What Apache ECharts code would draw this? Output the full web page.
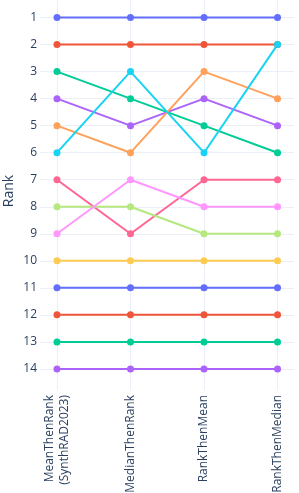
<!DOCTYPE html>
<html>
<head>
<meta charset="utf-8">
<script src="https://cdn.jsdelivr.net/npm/echarts@6/dist/echarts.min.js"></script>
<style>html,body{margin:0;padding:0;background:#fff}#c{width:299px;height:493px}</style>
</head>
<body>
<div id="c"></div>
<script>
const categories = ["MeanThenRank\n(SynthRAD2023)", "MedianThenRank", "RankThenMean", "RankThenMedian"];
const rankTicks = [1,2,3,4,5,6,7,8,9,10,11,12,13,14];
const rank01 = [1, 1, 1, 1];
const rank02 = [2, 2, 2, 2];
const rank03 = [3, 4, 5, 6];
const rank04 = [4, 5, 4, 5];
const rank05 = [5, 6, 3, 4];
const rank06 = [6, 3, 6, 2];
const rank07 = [7, 9, 7, 7];
const rank08 = [8, 8, 9, 9];
const rank09 = [9, 7, 8, 8];
const rank10 = [10, 10, 10, 10];
const rank11 = [11, 11, 11, 11];
const rank12 = [12, 12, 12, 12];
const rank13 = [13, 13, 13, 13];
const rank14 = [14, 14, 14, 14];
const allRanks = [rank01, rank02, rank03, rank04, rank05, rank06, rank07, rank08, rank09, rank10, rank11, rank12, rank13, rank14];
const colors = ['#636efa','#EF553B','#00cc96','#ab63fa','#FFA15A','#19d3f3','#FF6692','#B6E880','#FF97FF','#FECB52'];

const chart = echarts.init(document.getElementById('c'), null, {renderer: 'canvas'});
const font = '"Open Sans", verdana, arial, sans-serif';
const series = allRanks.map((arr, i) => ({
  type: 'line',
  data: arr.map((v, j) => [j, v]),
  symbol: 'circle',
  symbolSize: 7,
  lineStyle: {width: 2, color: colors[i % colors.length]},
  itemStyle: {color: colors[i % colors.length]},
  emphasis: {disabled: true},
  animation: false
}));
chart.setOption({
  backgroundColor: '#fff',
  animation: false,
  grid: {left: 40, right: 5, top: 0, height: 390, containLabel: false, outerBoundsMode: 'none'},
  xAxis: {
    type: 'value',
    min: -0.231,
    max: 3.224,
    axisLine: {show: false},
    axisTick: {show: false, customValues: [0,1,2,3]},
    splitLine: {show: true, lineStyle: {color: '#EBF0F8', width: 1}},
    axisLabel: {
      customValues: [0,1,2,3],
      rotate: 90,
      margin: 5,
      color: '#2a3f5f',
      fontSize: 12,
      fontFamily: font,
      lineHeight: 15,
      formatter: v => categories[Math.round(v)]
    }
  },
  yAxis: {
    type: 'value',
    inverse: true,
    min: 0.35,
    max: 14.78,
    name: 'Rank',
    nameLocation: 'middle',
    nameGap: 24,
    nameMoveOverlap: false,
    nameTextStyle: {color: '#2a3f5f', fontSize: 14, fontFamily: font, padding: [0, 0, 0, 8]},
    axisLine: {show: false},
    axisTick: {show: false, customValues: rankTicks},
    splitLine: {show: true, lineStyle: {color: '#EBF0F8', width: 1}},
    axisLabel: {
      customValues: rankTicks,
      margin: 3,
      color: '#2a3f5f',
      fontSize: 12,
      fontFamily: font
    }
  },
  series: series
});
</script>
</body>
</html>
